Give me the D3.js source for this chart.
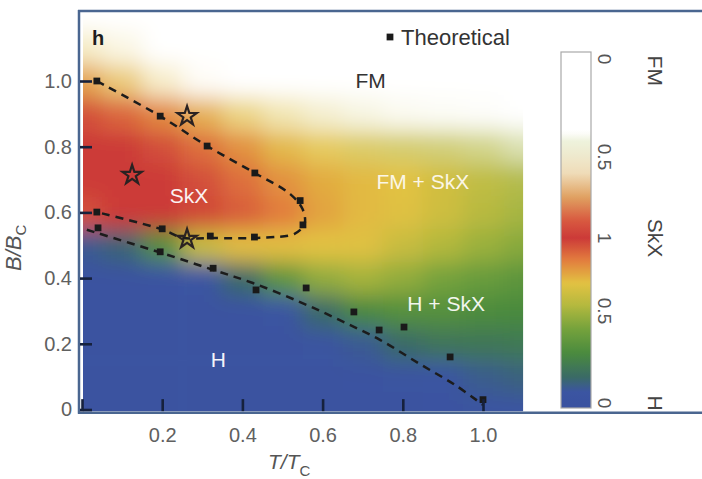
<!DOCTYPE html>
<html>
<head>
<meta charset="utf-8">
<script src="https://cdn.jsdelivr.net/npm/d3@7/dist/d3.min.js"></script>
<style>
body{margin:0;background:#fff;}
svg{display:block;font-family:"Liberation Sans",Arial,Helvetica,sans-serif;}
</style>
</head>
<body>
<svg id="chart" width="702" height="479"></svg>
<script>
// grid of the phase map, T/Tc columns and B/Bc rows
var tGrid = [0, 0.1, 0.2, 0.3, 0.4, 0.5, 0.6, 0.7, 0.8, 0.9, 1.0, 1.1];
var bGrid = [0, 0.1, 0.2, 0.3, 0.4, 0.5, 0.6, 0.7, 0.8, 0.9, 1.0, 1.1, 1.2];

// position on the H -> SkX side of the colour bar (0 = H, 1 = SkX), rows from B = 0 up
var skxGrid = [
	[0, 0, 0, 0, 0, 0, 0, 0, 0, 0.02, 0.03, 0.04],
	[0, 0, 0, 0, 0, 0, 0, 0.02, 0.04, 0.06, 0.09, 0.11],
	[0, 0, 0, 0, 0, 0, 0.03, 0.08, 0.14, 0.18, 0.19, 0.2],
	[0, 0, 0, 0, 0.02, 0.05, 0.14, 0.26, 0.3, 0.3, 0.28, 0.27],
	[0, 0, 0.02, 0.05, 0.14, 0.33, 0.46, 0.5, 0.46, 0.4, 0.36, 0.33],
	[0.08, 0.12, 0.3, 0.6, 0.7, 0.7, 0.69, 0.68, 0.6, 0.53, 0.48, 0.44],
	[0.95, 1, 1, 0.97, 0.92, 0.85, 0.76, 0.71, 0.68, 0.62, 0.55, 0.5],
	[1, 1, 1, 0.95, 0.88, 0.8, 0.74, 0.71, 0.69, 0.63, 0.57, 0.52],
	[1, 1, 0.95, 0.88, 0.8, 0.72, 0.69, 0.64, 0.6, 0.57, 0.54, 0.5],
	[0.95, 0.9, 0.82, 0.75, 0.7, 0.68, 0.64, 0.6, 0.6, 0.6, 0.6, 0.6],
	[0.78, 0.72, 0.7, 0.7, 0.7, 0.65, 0.6, 0.6, 0.6, 0.6, 0.6, 0.6],
	[0.68, 0.68, 0.7, 0.7, 0.7, 0.65, 0.6, 0.6, 0.6, 0.6, 0.6, 0.6],
	[0.68, 0.68, 0.7, 0.7, 0.7, 0.65, 0.6, 0.6, 0.6, 0.6, 0.6, 0.6]
];
// FM share (fades the colour to white), same layout
var fmGrid = [
	[0, 0, 0, 0, 0, 0, 0, 0, 0, 0, 0, 0],
	[0, 0, 0, 0, 0, 0, 0, 0, 0, 0, 0, 0],
	[0, 0, 0, 0, 0, 0, 0, 0, 0, 0, 0, 0],
	[0, 0, 0, 0, 0, 0, 0, 0, 0, 0, 0, 0],
	[0, 0, 0, 0, 0, 0, 0, 0, 0, 0, 0, 0],
	[0, 0, 0, 0, 0, 0, 0, 0, 0, 0, 0, 0],
	[0, 0, 0, 0, 0, 0, 0, 0, 0, 0, 0, 0.02],
	[0, 0, 0, 0, 0, 0, 0, 0, 0, 0, 0.03, 0.08],
	[0, 0, 0, 0, 0, 0.05, 0.15, 0.2, 0.25, 0.3, 0.4, 0.6],
	[0, 0, 0, 0.1, 0.35, 0.6, 0.75, 0.85, 0.92, 0.95, 0.97, 1],
	[0.08, 0.3, 0.72, 0.95, 1, 1, 1, 1, 1, 1, 1, 1],
	[0.7, 0.85, 1, 1, 1, 1, 1, 1, 1, 1, 1, 1],
	[1, 1, 1, 1, 1, 1, 1, 1, 1, 1, 1, 1]
];

// theoretical points [T/Tc, B/Bc]
var theoretical = [
	[0.037, 1.0], [0.195, 0.893], [0.312, 0.802], [0.431, 0.72], [0.544, 0.636], [0.551, 0.562],
	[0.037, 0.601], [0.04, 0.553], [0.2, 0.55], [0.32, 0.528], [0.43, 0.525],
	[0.195, 0.48], [0.327, 0.43], [0.434, 0.364], [0.559, 0.37], [0.678, 0.297],
	[0.741, 0.242], [0.803, 0.251], [0.918, 0.16], [1.0, 0.03]
];
var stars = [[0.262, 0.893], [0.125, 0.714], [0.262, 0.519]];

// dashed phase boundaries
var skxBoundary = [
	[0.037, 1.0], [0.195, 0.893], [0.312, 0.802], [0.431, 0.72], [0.52, 0.655], [0.55, 0.61],
	[0.555, 0.565], [0.53, 0.535], [0.45, 0.523], [0.32, 0.522], [0.25, 0.523], [0.2, 0.548], [0.037, 0.601]
];
var hBoundary = [
	[0.012, 0.547], [0.2, 0.476], [0.327, 0.425], [0.426, 0.385], [0.544, 0.327], [0.643, 0.272],
	[0.743, 0.212], [0.843, 0.138], [0.93, 0.075], [1.0, 0.014]
];

var xTicks = [0, 0.2, 0.4, 0.6, 0.8, 1.0];
var yTicks = [0, 0.2, 0.4, 0.6, 0.8, 1.0];

// colour bar: 0 = H, 1 = SkX, 2 = FM
var cbStops = [0, 0.06, 0.14, 0.27, 0.4, 0.53, 0.69, 0.85, 1, 1.11, 1.25, 1.4, 1.58, 1.63, 2];
var cbColors = ["#3a52a0", "#3b55a2", "#3a6a66", "#4a8a3e", "#74a23c", "#b2b83e", "#e2c242", "#e27c3e",
	"#cc3a38", "#d85a40", "#e0a060", "#efdcb8", "#eef2dc", "#ffffff", "#ffffff"];
var cbTicks = [0, 0.5, 1, 1.5, 2];
var cbTickLabels = ["0", "0.5", "1", "0.5", "0"];
var cbPhases = [{name: "FM", c: 1.94}, {name: "SkX", c: 1}, {name: "H", c: 0}];

var regionLabels = [
	{text: "SkX", t: 0.267, b: 0.63, fill: "#fbf2f2"},
	{text: "FM + SkX", t: 0.85, b: 0.67, fill: "#fbf6e6"},
	{text: "H + SkX", t: 0.908, b: 0.3, fill: "#f2f6ee"},
	{text: "H", t: 0.34, b: 0.13, fill: "#f4f4fa"},
	{text: "FM", t: 0.72, b: 0.978, fill: "#333"}
];

var svg = d3.select("#chart");
var defs = svg.append("defs");

var x = d3.scaleLinear().domain([0, 1]).range([82, 483]);
var y = d3.scaleLinear().domain([0, 1]).range([409.5, 81]);
var cbY = d3.scaleLinear().domain(cbTicks).range([403, 311, 238, 157, 59]);
var phaseColor = d3.scaleLinear().domain(cbStops).range(cbColors).clamp(true);

function cellColor(s, fm) {
	return d3.interpolateRgb(phaseColor(s), "#ffffff")(fm);
}

// heat map: coarse cells blurred together, then clipped
var tMax = 1.1, bTop = 1.21, bBot = -0.005;
defs.append("clipPath").attr("id", "heatclip")
	.append("rect")
	.attr("x", x(0) + 1).attr("y", y(bTop))
	.attr("width", x(tMax) - x(0) - 1).attr("height", y(bBot) - y(bTop));
defs.append("filter").attr("id", "soft")
	.attr("filterUnits", "userSpaceOnUse")
	.attr("x", -100).attr("y", -150).attr("width", 900).attr("height", 800)
	.append("feGaussianBlur").attr("stdDeviation", 11);

var cells = [];
bGrid.forEach(function(b, j) {
	tGrid.forEach(function(t, i) {
		cells.push({
			t0: i == 0 ? t - 0.3 : t - 0.05,
			t1: i == tGrid.length - 1 ? t + 0.3 : t + 0.05,
			b0: j == 0 ? b - 0.3 : b - 0.05,
			b1: j == bGrid.length - 1 ? b + 0.3 : b + 0.05,
			s: skxGrid[j][i], fm: fmGrid[j][i]
		});
	});
});
svg.append("g").attr("clip-path", "url(#heatclip)")
	.append("g").attr("filter", "url(#soft)")
	.selectAll("rect").data(cells).enter()
	.append("rect")
	.attr("x", function(d) { return x(d.t0); })
	.attr("y", function(d) { return y(d.b1); })
	.attr("width", function(d) { return x(d.t1) - x(d.t0) + 0.5; })
	.attr("height", function(d) { return y(d.b0) - y(d.b1) + 0.5; })
	.attr("fill", function(d) { return cellColor(d.s, d.fm); });

// colour bar
var cbTop = 52, cbBottom = 408, cbX = 561, cbW = 30;
var grad = defs.append("linearGradient").attr("id", "cbgrad")
	.attr("gradientUnits", "userSpaceOnUse")
	.attr("x1", 0).attr("x2", 0).attr("y1", cbTop).attr("y2", cbBottom);
var cbSamples = d3.range(0, 2.0001, 0.02);
grad.selectAll("stop").data(cbSamples).enter().append("stop")
	.attr("offset", function(c) { return Math.max(0, Math.min(1, (cbY(c) - cbTop) / (cbBottom - cbTop))); })
	.attr("stop-color", function(c) { return phaseColor(c); });
// stops must go in increasing offset order
grad.selectAll("stop").sort(function(a, b) { return b - a; });
svg.append("rect")
	.attr("x", cbX).attr("y", cbTop).attr("width", cbW).attr("height", cbBottom - cbTop)
	.attr("fill", "url(#cbgrad)").attr("stroke", "#a9a9a9").attr("stroke-width", 1.2);

svg.selectAll(".cblabel").data(cbTicks).enter()
	.append("text").attr("class", "cblabel")
	.attr("transform", function(c) { return "translate(598," + cbY(c) + ") rotate(90)"; })
	.attr("text-anchor", "middle")
	.attr("font-size", 19).attr("fill", "#555")
	.text(function(c, i) { return cbTickLabels[i]; });
svg.selectAll(".cbphase").data(cbPhases).enter()
	.append("text").attr("class", "cbphase")
	.attr("transform", function(d) { return "translate(648," + cbY(d.c) + ") rotate(90)"; })
	.attr("text-anchor", "middle")
	.attr("font-size", 21).attr("fill", "#444")
	.text(function(d) { return d.name; });

// frame
var frameColor = "#4a6690";
svg.append("line").attr("x1", x(0) - 4).attr("x2", 702).attr("y1", 11).attr("y2", 11)
	.attr("stroke", frameColor).attr("stroke-width", 2.5);
svg.append("line").attr("x1", x(0) - 4).attr("x2", 702).attr("y1", y(bBot) + 1.5).attr("y2", y(bBot) + 1.5)
	.attr("stroke", frameColor).attr("stroke-width", 2.5);
svg.append("line").attr("x1", x(0) - 3).attr("x2", x(0) - 3).attr("y1", 10).attr("y2", y(bBot) + 2.5)
	.attr("stroke", frameColor).attr("stroke-width", 2.5);

// boundaries
var line = d3.line()
	.x(function(d) { return x(d[0]); })
	.y(function(d) { return y(d[1]); })
	.curve(d3.curveCatmullRom);
svg.selectAll(".boundary").data([skxBoundary, hBoundary]).enter()
	.append("path").attr("class", "boundary")
	.attr("d", line)
	.attr("fill", "none").attr("stroke", "#1c1c1c")
	.attr("stroke-width", 2.5).attr("stroke-dasharray", "8,6");

svg.selectAll(".pt").data(theoretical).enter()
	.append("path").attr("class", "pt")
	.attr("transform", function(d) { return "translate(" + x(d[0]) + "," + y(d[1]) + ")"; })
	.attr("d", d3.symbol().type(d3.symbolSquare).size(46))
	.attr("fill", "#1a1a1a");

svg.selectAll(".star").data(stars).enter()
	.append("path").attr("class", "star")
	.attr("transform", function(d) { return "translate(" + x(d[0]) + "," + y(d[1]) + ")"; })
	.attr("d", d3.symbol().type(d3.symbolStar).size(115))
	.attr("fill", "none").attr("stroke", "#2a2222").attr("stroke-width", 2.2);

// axes with inward ticks
var yAxis = svg.append("g").attr("transform", "translate(" + (x(0) - 2) + ",0)")
	.call(d3.axisLeft(y).tickValues(yTicks).tickSize(-12).tickPadding(8)
		.tickFormat(function(d) { return d === 0 ? "0" : d3.format(".1f")(d); }));
var xAxis = svg.append("g").attr("transform", "translate(0," + y(bBot) + ")")
	.call(d3.axisBottom(x).tickValues(xTicks).tickSize(-12).tickPadding(17)
		.tickFormat(function(d) { return d === 0 ? "" : d3.format(".1f")(d); }));
[xAxis, yAxis].forEach(function(ax) {
	ax.select(".domain").remove();
	ax.selectAll(".tick line").attr("stroke", "#16213d").attr("stroke-width", 2.6);
	ax.selectAll(".tick text").attr("font-size", 20).attr("fill", "#606060")
		.attr("font-family", "'Liberation Sans',Arial,sans-serif");
});

// axis titles
var yTitle = svg.append("text")
	.attr("transform", "translate(21,271) rotate(-90)")
	.attr("font-size", 22).attr("font-style", "italic").attr("fill", "#555");
yTitle.append("tspan").text("B/B");
yTitle.append("tspan").attr("dy", 5).attr("font-size", 15).attr("font-style", "normal").text("C");
var xTitle = svg.append("text")
	.attr("x", 268).attr("y", 469)
	.attr("font-size", 21).attr("font-style", "italic").attr("fill", "#555");
xTitle.append("tspan").text("T/T");
xTitle.append("tspan").attr("dy", 7).attr("font-size", 15).attr("font-style", "normal").text("C");

// panel letter and legend
svg.append("text").attr("x", 92).attr("y", 45)
	.attr("font-size", 20).attr("font-weight", "bold").attr("fill", "#1e1e1e").text("h");
svg.append("path")
	.attr("transform", "translate(390,37)")
	.attr("d", d3.symbol().type(d3.symbolSquare).size(46))
	.attr("fill", "#1a1a1a");
svg.append("text").attr("x", 401).attr("y", 45)
	.attr("font-size", 22).attr("fill", "#333").text("Theoretical");

svg.selectAll(".region").data(regionLabels).enter()
	.append("text").attr("class", "region")
	.attr("x", function(d) { return x(d.t); })
	.attr("y", function(d) { return y(d.b); })
	.attr("text-anchor", "middle")
	.attr("font-size", 21)
	.attr("fill", function(d) { return d.fill; })
	.text(function(d) { return d.text; });
</script>
</body>
</html>
